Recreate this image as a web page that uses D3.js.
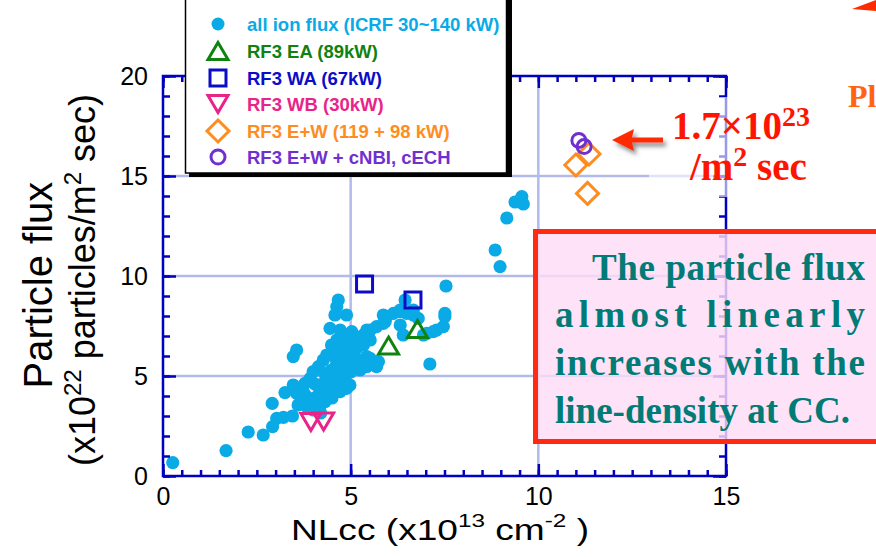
<!DOCTYPE html>
<html>
<head>
<meta charset="utf-8">
<script src="https://cdn.jsdelivr.net/npm/d3@7"></script>
<style>
  body { margin: 0; background: #fff; }
  svg { display: block; }
</style>
</head>
<body>
<div id="chart"></div>
<script>
// ---- data (x: NLcc 1e13 cm^-2, y: flux 1e22 /m^2 s) ----
var allIonFlux = [
  [0.26,0.67],[1.68,1.27],[2.27,2.2],[2.67,2.05],[2.92,2.47],[2.91,3.63],[3.03,2.88],[3.21,2.93],
  [3.45,3.0],[3.25,4.17],[3.47,4.55],[3.47,5.97],[3.56,6.3],
  [4.67,8.8],[4.63,8.47],[4.89,8.05],[4.58,8.05],[4.45,7.38],[4.72,7.3],[5.03,7.22],[4.89,6.97],
  [4.63,6.8],[4.49,6.55],[4.36,6.05],[4.27,5.8],[4.14,5.47],[4.0,5.22],[3.92,4.88],[3.78,4.63],
  [3.65,4.38],[3.56,4.13],[4.63,6.3],[4.8,6.55],[4.98,6.63],[5.16,6.8],[5.34,7.05],[5.47,7.22],
  [5.52,6.8],[5.34,6.55],[5.16,6.38],[4.98,6.13],[4.8,5.8],[4.63,5.63],[4.49,5.3],[4.36,4.97],
  [4.27,4.63],[4.18,4.3],[4.1,3.97],[4.0,3.63],[3.92,3.38],[4.1,3.38],[4.23,3.8],[4.36,3.97],
  [4.54,4.13],[4.72,4.22],[4.89,4.38],[4.98,4.55],[4.85,4.8],[4.72,5.05],[4.89,5.38],[5.07,5.55],
  [5.25,5.3],[5.43,5.47],[5.56,5.63],[5.74,5.72],[5.52,5.88],[5.34,5.8],[5.16,5.8],[4.76,4.55],
  [4.58,4.55],[4.45,4.3],[3.83,3.97],[3.74,4.22],[3.7,3.8],[3.83,3.47],[4.0,3.3],[4.32,3.72],
  [4.18,3.47],[4.98,6.3],[5.43,5.97],[5.69,5.47],
  [4.45,5.0],[4.6,5.9],[4.75,6.1],[5.1,6.0],[4.3,5.15],[4.55,4.8],[4.05,4.6],[4.4,4.7],
  [5.0,5.2],[3.95,3.7],[3.6,3.55],[4.2,3.15],[4.5,3.9],
  [5.52,7.3],[5.43,7.3],[5.69,7.47],[5.87,7.63],[5.92,7.72],[5.87,8.05],[5.96,7.97],[6.14,8.13],
  [6.32,8.22],[6.32,8.3],[6.49,8.13],[6.67,8.05],[6.67,8.3],[6.8,7.88],[6.32,7.55],[6.4,7.05],
  [6.45,8.8],[6.94,7.05],[7.03,7.13],[7.2,7.22],[7.29,7.3],[7.47,7.47],[7.51,7.97],[7.51,8.13],
  [7.54,9.5],[7.11,5.6],
  [8.85,11.3],[8.98,10.47],[9.16,12.9],[9.38,13.7],[9.56,13.97],[9.6,13.6]
];
var rf3EA = [[6.01,6.52],[6.78,7.35]];
var rf3WA = [[5.37,9.6],[6.66,8.8]];
var rf3WB = [[3.94,2.7],[4.28,2.72]];
var rf3EW = [[11.0,15.55],[11.35,16.1],[11.31,14.13]];
var rf3EWnbi = [[11.08,16.78],[11.22,16.47]];

var legendLabels = ["all ion flux (ICRF 30~140 kW)", "RF3 EA (89kW)", "RF3 WA (67kW)",
                    "RF3 WB (30kW)", "RF3 E+W (119 + 98 kW)", "RF3 E+W + cNBI, cECH"];
var xTicks = [0, 5, 10, 15];
var yTicks = [0, 5, 10, 15, 20];
var noteLines = ["The particle flux", "almost linearly", "increases with the", "line-density at CC."];

// ---- layout ----
var width = 876, height = 557;
var axisColor = "#0000c0";
var gridColor = "#b2baec";
var sans = "'Liberation Sans', Arial, sans-serif";
var serif = "'Liberation Serif', 'Times New Roman', serif";

var svg = d3.select("#chart").append("svg")
  .attr("width", width).attr("height", height);

var defs = svg.append("defs");
defs.append("filter").attr("id", "shadow").attr("x", "-20%").attr("y", "-50%")
  .attr("width", "150%").attr("height", "250%")
  .append("feDropShadow").attr("dx", 3).attr("dy", 4).attr("stdDeviation", 2)
  .attr("flood-color", "#444").attr("flood-opacity", 0.6);

var x = d3.scaleLinear().domain([0, 15]).range([163, 726]);
var y = d3.scaleLinear().domain([0, 20]).range([476, 76]);

// grid
svg.append("g").selectAll("line").data([5, 10]).enter().append("line")
  .attr("x1", d => x(d)).attr("x2", d => x(d)).attr("y1", y(0)).attr("y2", y(20))
  .attr("stroke", gridColor).attr("stroke-width", 2.5);
svg.append("g").selectAll("line").data([5, 10, 15]).enter().append("line")
  .attr("x1", x(0)).attr("x2", x(15)).attr("y1", d => y(d)).attr("y2", d => y(d))
  .attr("stroke", gridColor).attr("stroke-width", 2.5);

// markers
function shape(type) {
  if (type === "up") return "M0,-8.5L10,8.5L-10,8.5Z";
  if (type === "down") return "M-10,-8.5L10,-8.5L0,8.5Z";
  if (type === "square") return "M-8,-8H8V8H-8Z";
  if (type === "diamond") return "M0,-11L11,0L0,11L-11,0Z";
  return d3.arc()({innerRadius: 0, outerRadius: 7, startAngle: 0, endAngle: 2 * Math.PI});
}
var series = [
  {data: allIonFlux, color: "#0aaae6", type: "dot"},
  {data: rf3EA, color: "#0f820f", type: "up"},
  {data: rf3WA, color: "#0c0cc8", type: "square"},
  {data: rf3WB, color: "#e8248a", type: "down"},
  {data: rf3EW, color: "#ff8c1e", type: "diamond"},
  {data: rf3EWnbi, color: "#7030d0", type: "circle"}
];

svg.append("g").selectAll("circle").data(allIonFlux).enter().append("circle")
  .attr("cx", d => x(d[0])).attr("cy", d => y(d[1])).attr("r", 6.6)
  .attr("fill", series[0].color);

series.slice(1).forEach(function(s) {
  svg.append("g").selectAll("path").data(s.data).enter().append("path")
    .attr("transform", d => "translate(" + x(d[0]) + "," + y(d[1]) + ")")
    .attr("d", shape(s.type))
    .attr("fill", "none").attr("stroke", s.color).attr("stroke-width", 3);
});

// axes
function styleAxis(g) {
  g.select(".domain").remove();
  g.selectAll(".tick line").attr("stroke", axisColor).attr("stroke-width", 2.5);
  g.selectAll(".tick text").attr("fill", "#000").style("font-family", sans).style("font-size", "25px");
}
var xMinor = d3.range(0, 15.001, 0.5);
var yMinor = d3.range(0, 20.001, 1);

svg.append("g").attr("transform", "translate(0," + y(0) + ")")
  .call(d3.axisBottom(x).tickValues(xMinor).tickSize(-6).tickFormat("")).call(styleAxis);
svg.append("g").attr("transform", "translate(0," + y(0) + ")")
  .call(d3.axisBottom(x).tickValues(xTicks).tickSize(-12).tickPadding(11)).call(styleAxis);
svg.append("g").attr("transform", "translate(0," + y(20) + ")")
  .call(d3.axisTop(x).tickValues(xMinor).tickSize(-6).tickFormat("")).call(styleAxis);
svg.append("g").attr("transform", "translate(0," + y(20) + ")")
  .call(d3.axisTop(x).tickValues(xTicks).tickSize(-12).tickFormat("")).call(styleAxis);
svg.append("g").attr("transform", "translate(" + x(0) + ",0)")
  .call(d3.axisLeft(y).tickValues(yMinor).tickSize(-7).tickFormat("")).call(styleAxis);
svg.append("g").attr("transform", "translate(" + x(0) + ",0)")
  .call(d3.axisLeft(y).tickValues(yTicks).tickSize(-13).tickPadding(15)).call(styleAxis);
svg.append("g").attr("transform", "translate(" + x(15) + ",0)")
  .call(d3.axisRight(y).tickValues(yMinor).tickSize(-7).tickFormat("")).call(styleAxis);
svg.append("g").attr("transform", "translate(" + x(15) + ",0)")
  .call(d3.axisRight(y).tickValues(yTicks).tickSize(-13).tickFormat("")).call(styleAxis);

svg.append("rect").attr("x", x(0)).attr("y", y(20))
  .attr("width", x(15) - x(0)).attr("height", y(0) - y(20))
  .attr("fill", "none").attr("stroke", axisColor).attr("stroke-width", 2.5);

// axis titles
var xt = svg.append("text").attr("transform", "translate(440,540) scale(1.28,1)")
  .attr("text-anchor", "middle").style("font-family", sans).style("font-size", "29px");
xt.append("tspan").text("NLcc (x10");
xt.append("tspan").attr("dy", -13).style("font-size", "19px").text("13");
xt.append("tspan").attr("dy", 13).text(" cm");
xt.append("tspan").attr("dy", -13).style("font-size", "19px").text("-2");
xt.append("tspan").attr("dy", 13).text(" )");

svg.append("text").attr("transform", "translate(52,285) rotate(-90)")
  .attr("text-anchor", "middle").style("font-family", sans).style("font-size", "40px")
  .text("Particle flux");
var yt = svg.append("text").attr("transform", "translate(95,280) rotate(-90)")
  .attr("text-anchor", "middle").style("font-family", sans).style("font-size", "36px");
yt.append("tspan").text("(x10");
yt.append("tspan").attr("dy", -14).style("font-size", "24px").text("22");
yt.append("tspan").attr("dy", 14).text(" particles/m");
yt.append("tspan").attr("dy", -14).style("font-size", "24px").text("2");
yt.append("tspan").attr("dy", 14).text(" sec)");

// translucent panel behind the peak annotation
svg.append("rect").attr("x", 649).attr("y", 97).attr("width", 185).attr("height", 100)
  .attr("fill", "#fff").attr("opacity", 0.6);

// pink note box
svg.append("rect").attr("x", 535.5).attr("y", 231.5).attr("width", 400).attr("height", 210)
  .attr("fill", "#fcdcf6").attr("fill-opacity", 0.82)
  .attr("stroke", "#ff2a10").attr("stroke-width", 5);
var noteX = [592, 555, 555, 555];
var noteLen = [273, 310, 310, null];
var noteY = [280, 327, 375, 423];
noteLines.forEach(function(t, i) {
  var el = svg.append("text").attr("x", noteX[i]).attr("y", noteY[i])
    .style("font-family", serif).style("font-weight", "bold").style("font-size", "37px")
    .attr("fill", "#007b76").text(t);
  if (noteLen[i]) el.attr("textLength", noteLen[i]).attr("lengthAdjust", "spacing");
});

// peak annotation
svg.append("path").attr("filter", "url(#shadow)")
  .attr("d", "M663,137.5L632,137.5L634,129L612,140L634,151L632,142.5L663,142.5Z")
  .attr("fill", "#ff2a00");
var a1 = svg.append("text").attr("x", 672).attr("y", 139)
  .style("font-family", serif).style("font-weight", "bold").style("font-size", "39px")
  .attr("fill", "#ff1400");
a1.append("tspan").text("1.7\u00d710");
a1.append("tspan").attr("dy", -13).style("font-size", "28px").text("23");
var a2 = svg.append("text").attr("x", 690).attr("y", 180)
  .style("font-family", serif).style("font-weight", "bold").style("font-size", "39px")
  .attr("fill", "#ff1400");
a2.append("tspan").text("/m");
a2.append("tspan").attr("dy", -14).style("font-size", "28px").text("2");
a2.append("tspan").attr("dy", 14).text(" sec");

svg.append("text").attr("x", 848).attr("y", 107)
  .style("font-family", serif).style("font-weight", "bold").style("font-size", "32px")
  .attr("fill", "#ff6414").text("Pl");

// stray red arrows cut off at the top
svg.append("path").attr("d", "M852,9L876,0L876,11Z").attr("fill", "#ff2a00");
svg.append("line").attr("x1", 436).attr("y1", 8).attr("x2", 462).attr("y2", -2)
  .attr("stroke", "#ff2a00").attr("stroke-width", 3);

// legend
var lg = svg.append("g");
lg.append("rect").attr("x", 189).attr("y", -8).attr("width", 323).attr("height", 185).attr("fill", "#000");
lg.append("rect").attr("x", 185.5).attr("y", -10).attr("width", 321).attr("height", 183)
  .attr("fill", "#fff").attr("stroke", "#000").attr("stroke-width", 1.5);
var rowY = [24, 51, 78, 104, 131, 157];
var items = lg.selectAll("g.item").data(series).enter().append("g")
  .attr("transform", (d, i) => "translate(218," + rowY[i] + ")");
items.append("path")
  .attr("d", d => d.type === "dot"
    ? d3.arc()({innerRadius: 0, outerRadius: 6.5, startAngle: 0, endAngle: 2 * Math.PI})
    : shape(d.type))
  .attr("fill", d => d.type === "dot" ? d.color : "none")
  .attr("stroke", d => d.type === "dot" ? "none" : d.color)
  .attr("stroke-width", 3);
items.append("text").attr("x", 29).attr("y", 6.5)
  .style("font-family", sans).style("font-weight", "bold").style("font-size", "18.5px")
  .attr("fill", d => d.color).text((d, i) => legendLabels[i]);
</script>
</body>
</html>
